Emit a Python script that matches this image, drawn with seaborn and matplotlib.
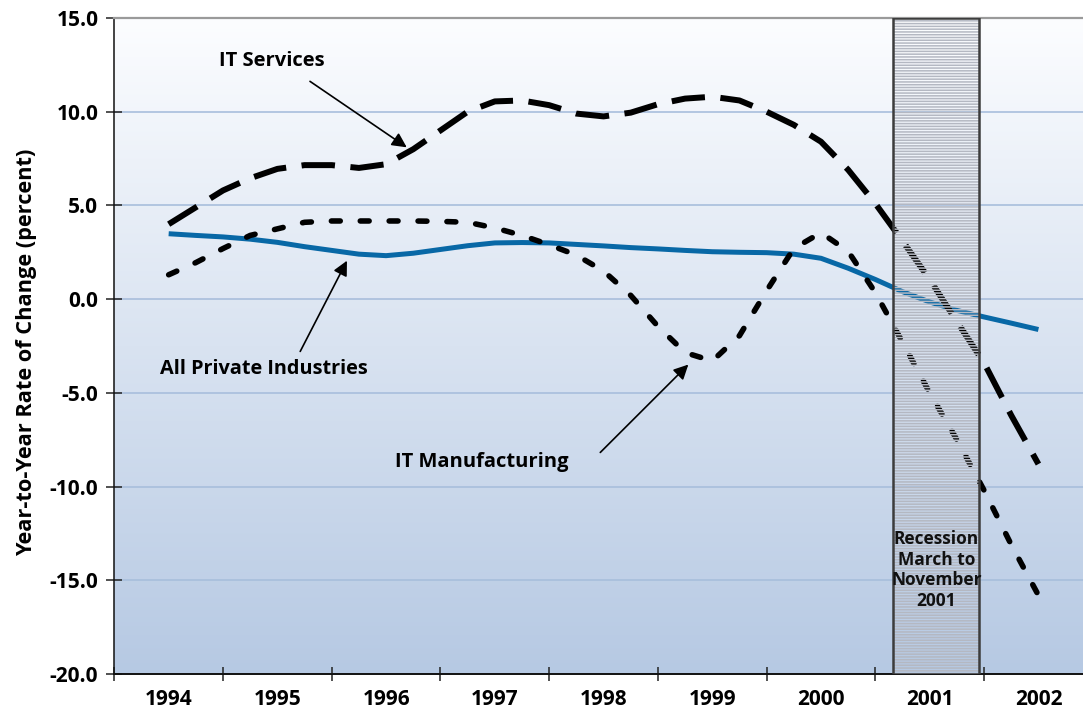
import numpy as np
import pandas as pd
import matplotlib
matplotlib.use("Agg")
import matplotlib.pyplot as plt
from matplotlib.patches import Rectangle
import seaborn as sns

# ---------------- data ----------------
years = [1994, 1995, 1996, 1997, 1998, 1999, 2000, 2001, 2002]
year_labels = [str(y) for y in years]
# quarterly observation times
times = [y + q / 4 for y in range(1994, 2002) for q in range(4)] + [2002.0]

all_private = [3.49, 3.40, 3.32, 3.20, 3.03, 2.80, 2.60, 2.40, 2.32, 2.45, 2.65,
               2.85, 3.00, 3.02, 3.00, 2.92, 2.84, 2.75, 2.68, 2.60, 2.53, 2.50,
               2.48, 2.40, 2.18, 1.65, 1.05, 0.40, -0.15, -0.60, -0.95, -1.28, -1.62]
it_services = [4.0, 4.9, 5.8, 6.45, 6.95, 7.15, 7.15, 7.0, 7.2, 8.0, 9.0, 10.0,
               10.55, 10.6, 10.35, 9.9, 9.75, 9.95, 10.4, 10.7, 10.8, 10.6, 10.0,
               9.3, 8.4, 6.9, 5.1, 3.1, 1.05, -1.2, -3.4, -6.2, -8.8]
it_manufacturing = [1.3, 1.95, 2.7, 3.4, 3.75, 4.1, 4.17, 4.17, 4.17, 4.17, 4.15,
                    4.1, 3.8, 3.4, 2.9, 2.35, 1.5, 0.2, -1.45, -2.85, -3.3, -1.95,
                    0.45, 2.7, 3.55, 2.55, 0.35, -2.3, -5.0, -7.5, -10.2, -13.1, -15.8]

recession_start = (2001, 3)   # March 2001
recession_end = (2001, 11)    # November 2001 (end of month)
recession_text = "Recession\nMarch to\nNovember\n2001"

y_ticks = [-20, -15, -10, -5, 0, 5, 10, 15]

# ---------------- figure ----------------
FONT = ["Open Sans", "DejaVu Sans"]
plt.rcParams["font.family"] = FONT
fig = plt.figure(figsize=(10.83, 7.11), dpi=100)
ax = fig.add_axes([114.3 / 1083, 37 / 711, (1083 - 114.3) / 1083, 656 / 711])

# x position: category index with year value centred on its category
t_idx = [t - years[0] for t in times]
df = pd.DataFrame({"t": t_idx,
                   "All Private Industries": all_private,
                   "IT Services": it_services,
                   "IT Manufacturing": it_manufacturing})
long = df.melt(id_vars="t", var_name="series", value_name="value")

# background gradient
grad = np.linspace(0, 1, 256).reshape(-1, 1)
top = np.array(matplotlib.colors.to_rgb("#fcfdff"))
bot = np.array(matplotlib.colors.to_rgb("#b6c9e3"))
img = top[None, None, :] * (1 - grad[..., None]) + bot[None, None, :] * grad[..., None]
ax.imshow(img, extent=[0, 1, 0, 1], transform=ax.transAxes, aspect="auto",
          zorder=-5, interpolation="bilinear")

# lines
sns.lineplot(data=long[long.series == "All Private Industries"], x="t", y="value",
             color="#0868a6", lw=3.6, ax=ax, legend=False, zorder=3)
ax.lines[-1].set_solid_capstyle("butt")

sns.lineplot(data=long[long.series == "IT Manufacturing"], x="t", y="value",
             color="black", lw=4.0, ax=ax, legend=False, zorder=4)
l = ax.lines[-1]
l.set_linestyle((0, (1.6, 3.6)))
l.set_dash_capstyle("round")

sns.lineplot(data=long[long.series == "IT Services"], x="t", y="value",
             color="black", lw=4.3, ax=ax, legend=False, zorder=5)
l = ax.lines[-1]
l.set_linestyle((0, (5.6, 2.6)))
l.set_dash_capstyle("butt")

# recession box
def month_pos(ym, end=False):
    y, m = ym
    frac = (m if end else m - 1) / 12
    return y - years[0] + frac - 0.5

x0 = month_pos(recession_start)
x1 = month_pos(recession_end, end=True) + 0.04
plt.rcParams["hatch.linewidth"] = 1.1
plt.rcParams["hatch.color"] = "#b4b8c2"
rect = Rectangle((x0, -20), x1 - x0, 35, facecolor="none", edgecolor="#b4b8c2",
                 hatch="------", lw=0, zorder=6)
ax.add_patch(rect)
rect2 = Rectangle((x0, -20), x1 - x0, 35, facecolor="none", edgecolor="#3c3c3c",
                  lw=1.8, zorder=7)
ax.add_patch(rect2)
ax.text((x0 + x1) / 2, -14.45, recession_text, ha="center", va="center",
        fontsize=12.5, fontweight="bold", linespacing=1.2, zorder=8, color="#111111")

# axes styling
ax.set_xlim(-0.5, 8.41)
ax.set_ylim(-20, 15)
ax.set_yticks(y_ticks)
ax.set_yticklabels([f"{v:.1f}" for v in y_ticks])
ax.set_xticks([i - 0.5 for i in range(len(years))])
ax.set_xticklabels([])
ax.set_xticks(range(len(years)), minor=True)
ax.set_xticklabels(year_labels, minor=True)
ax.tick_params(axis="x", which="minor", length=0, pad=11, labelsize=15)
ax.tick_params(axis="x", which="major", direction="inout", length=10, width=1.1,
               color="#222222")
ax.tick_params(axis="y", direction="inout", length=11, width=1.1, pad=6,
               labelsize=15, color="#222222")
for lab in ax.get_xticklabels(minor=True) + ax.get_yticklabels():
    lab.set_fontweight("bold")

ax.yaxis.grid(True, color="#a8bedc", lw=1.2)
ax.xaxis.grid(False)
ax.set_axisbelow(True)
ax.spines["right"].set_visible(False)
ax.spines["top"].set_color("#9a9a9a")
ax.spines["top"].set_linewidth(1.6)
ax.spines["left"].set_color("#111111")
ax.spines["left"].set_linewidth(1.1)
ax.spines["bottom"].set_color("#111111")
ax.spines["bottom"].set_linewidth(1.4)

ax.set_xlabel("")
ax.set_ylabel("Year-to-Year Rate of Change (percent)", fontsize=15.7,
              fontweight="bold")
ax.yaxis.set_label_coords(-0.080, 0.49)

# annotations
arrow = dict(arrowstyle="-|>", color="black", lw=1.2, mutation_scale=22,
             shrinkA=0, shrinkB=0)
ax.text(0.95, 12.68, "IT Services", ha="center", va="center", fontsize=14.5,
        fontweight="bold")
ax.annotate("", xy=(2.19, 8.1), xytext=(1.30, 11.62), arrowprops=arrow, zorder=9)
ax.text(0.88, -3.75, "All Private Industries", ha="center", va="center",
        fontsize=14.3, fontweight="bold")
ax.annotate("", xy=(1.64, 2.05), xytext=(1.21, -2.79), arrowprops=arrow, zorder=9)
ax.text(2.88, -8.67, "IT Manufacturing", ha="center", va="center", fontsize=14.5,
        fontweight="bold")
ax.annotate("", xy=(4.78, -3.49), xytext=(3.97, -8.18), arrowprops=arrow, zorder=9)

fig.savefig("out.png", dpi=100)
